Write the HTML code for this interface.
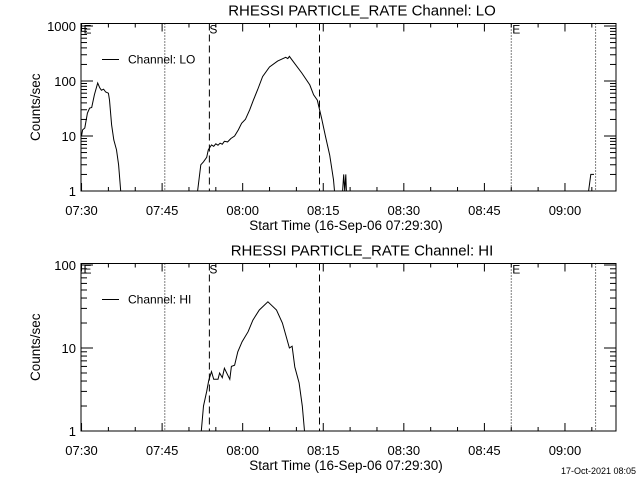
<!DOCTYPE html>
<html><head><meta charset="utf-8"><style>
html,body{margin:0;padding:0;background:#fff}
svg{display:block;font-family:"Liberation Sans",sans-serif}
</style></head><body>
<svg id="c" width="640" height="480" viewBox="0 0 640 480"></svg>
<script>
// time in minutes after 07:30
const loTimes=[0,0.2,0.6,1.1,1.5,1.9,2.4,3.0,3.4,3.7,4.1,4.5,5.0,5.2,5.6,6.0,6.5,6.9,7.3,7.5,21.4,21.6,22.2,22.7,23.3,23.6,24.2,24.6,25.0,25.4,25.8,26.2,26.6,27.2,27.8,28.5,29.2,29.8,30.5,31.3,32.0,32.8,33.7,35.0,36.5,37.3,38.0,38.4,38.7,39.5,41.0,42.5,43.2,43.9,44.7,45.4,46.2,46.9,47.1,48.6,48.8,49.0,49.2,49.3,94.4,94.8,95.4];
const loValues=[10,12.9,14,26,32,33,56,92,75,68,71,63,60,45,16,8.5,5.6,3,1,0.5,0.5,1,3,3.4,4.1,5.6,6.9,6.5,7.2,6.8,7.4,7.1,8,7.8,9,10,13,17,20,30,45,70,120,180,230,250,270,255,280,220,140,85,56,45,21,10,4.5,1.6,1,1,2,1,2,1,1,2,2];
const hiTimes=[22.1,22.3,22.7,23.3,23.7,24.2,24.6,25.4,25.7,26.2,26.6,27.6,27.9,28.5,29.1,29.9,31.0,31.9,33.1,34.7,36.3,37.4,38.7,39.2,39.7,40.5,41.1,41.5,41.7];
const hiValues=[0.5,1,2,3,4.1,5.2,4.2,4.2,5,4.4,5.7,4.2,6,6.2,9,11.9,15.7,21.7,28.7,36,28.7,20,10,10.5,5.9,3.8,2,1,0.5];
const xTickLabels=["07:30","07:45","08:00","08:15","08:30","08:45","09:00"];
const dottedTimes=[15.5,80,95.7];
const dashedTimes=[23.8,44.3];

const S=document.getElementById('c'),NS='http://www.w3.org/2000/svg';
function mk(tag,at,parent){const e=document.createElementNS(NS,tag);for(const k in at)e.setAttribute(k,at[k]);(parent||S).appendChild(e);return e;}
const X0=81,X1=616,T0=-0.1,T1=99.5;
function xs(t){return X0+(t-T0)*(X1-X0)/(T1-T0);}

function panel(p){
  const g=mk('g',{});
  
  
  const ys=v=>p.yb-(Math.log10(v))*p.dec;
  const t=mk('text',{x:362,y:p.yt-8,'text-anchor':'middle','font-size':15},g);
  t.textContent=p.title;
  
  
  const cid='clip'+p.id;
  const cp=mk('clipPath',{id:cid},g);mk('rect',{x:X0,y:p.yt,width:X1-X0,height:p.yb-p.yt},cp);
  for(let d=0;d<p.decades;d++){
    for(let m=1;m<10;m++){
      const v=Math.pow(10,d)*m,y=ys(v);
      if(y<p.yt)continue;
      const L=m===1?12:6;
      mk('line',{x1:X0,x2:X0+L,y1:y,y2:y,stroke:'#000'},g);
      mk('line',{x1:X1,x2:X1-L,y1:y,y2:y,stroke:'#000'},g);
    }
  }
  for(let d=0;d<p.labels.length;d++){
    const tt=mk('text',{x:76,y:ys(Math.pow(10,d))+5,'text-anchor':'end','font-size':13},g);
    tt.textContent=p.labels[d];
    
    
  }
  for(let m=0;m<=95;m+=5){
    const x=xs(m),L=m%15===0?8:4;
    mk('line',{x1:x,x2:x,y1:p.yb,y2:p.yb-L,stroke:'#000'},g);
    mk('line',{x1:x,x2:x,y1:p.yt,y2:p.yt+L,stroke:'#000'},g);
  }
  xTickLabels.forEach((s,i)=>{
    const tt=mk('text',{x:xs(i*15),y:p.yb+24,'text-anchor':'middle','font-size':13},g);
    tt.textContent=s;
    
    
  });
  const xt=mk('text',{x:346,y:p.yb+39,'text-anchor':'middle','font-size':13.5},g);
  xt.textContent='Start Time (16-Sep-06 07:29:30)';
  
  
  const yt=mk('text',{x:0,y:0,'text-anchor':'middle','font-size':13.5,transform:`translate(40,${(p.yt+p.yb)/2}) rotate(-90)`},g);
  yt.textContent='Counts/sec';
  
  
  dottedTimes.forEach(tm=>{const l=mk('line',{x1:xs(tm),x2:xs(tm),y1:p.yt,y2:p.yb,stroke:'#000','stroke-dasharray':'1,2'},g);
    });
  dashedTimes.forEach(tm=>{const l=mk('line',{x1:xs(tm),x2:xs(tm),y1:p.yt,y2:p.yb,stroke:'#000','stroke-dasharray':'7,4'},g);
    });
  [['E',xs(0)+2],['S',xs(dashedTimes[0])],['E',xs(dottedTimes[1])+1]].forEach(a=>{
    const tt=mk('text',{x:a[1],y:p.yt+10,'font-size':12},g);tt.textContent=a[0];
    });
  const pts=p.t.map((tm,i)=>xs(tm).toFixed(1)+','+ys(p.v[i]).toFixed(1)).join(' ');
  const pl=mk('polyline',{points:pts,fill:'none',stroke:'#000','stroke-width':1,'clip-path':`url(#${cid})`},g);
  
  
  const lg=mk('g',{},g);
  
  
  mk('line',{x1:102,x2:119,y1:p.yt+36,y2:p.yt+36,stroke:'#000'},lg);
  const lt=mk('text',{x:128,y:p.yt+40,'font-size':12},lg);lt.textContent=p.legend;
  const fr=mk('rect',{x:X0,y:p.yt,width:X1-X0,height:p.yb-p.yt,fill:'none',stroke:'#000'},g);
  
  
}
panel({id:1,name:'lo-panel',title:'RHESSI PARTICLE_RATE Channel: LO',legend:'Channel: LO',yt:23.5,yb:191,dec:55,decades:4,labels:['1','10','100','1000'],t:loTimes,v:loValues});
panel({id:2,name:'hi-panel',title:'RHESSI PARTICLE_RATE Channel: HI',legend:'Channel: HI',yt:263.5,yb:431,dec:83,decades:3,labels:['1','10','100'],t:hiTimes,v:hiValues});
const ft=mk('text',{x:636,y:474,'text-anchor':'end','font-size':9});
ft.textContent='17-Oct-2021 08:05';


</script>
</body></html>
